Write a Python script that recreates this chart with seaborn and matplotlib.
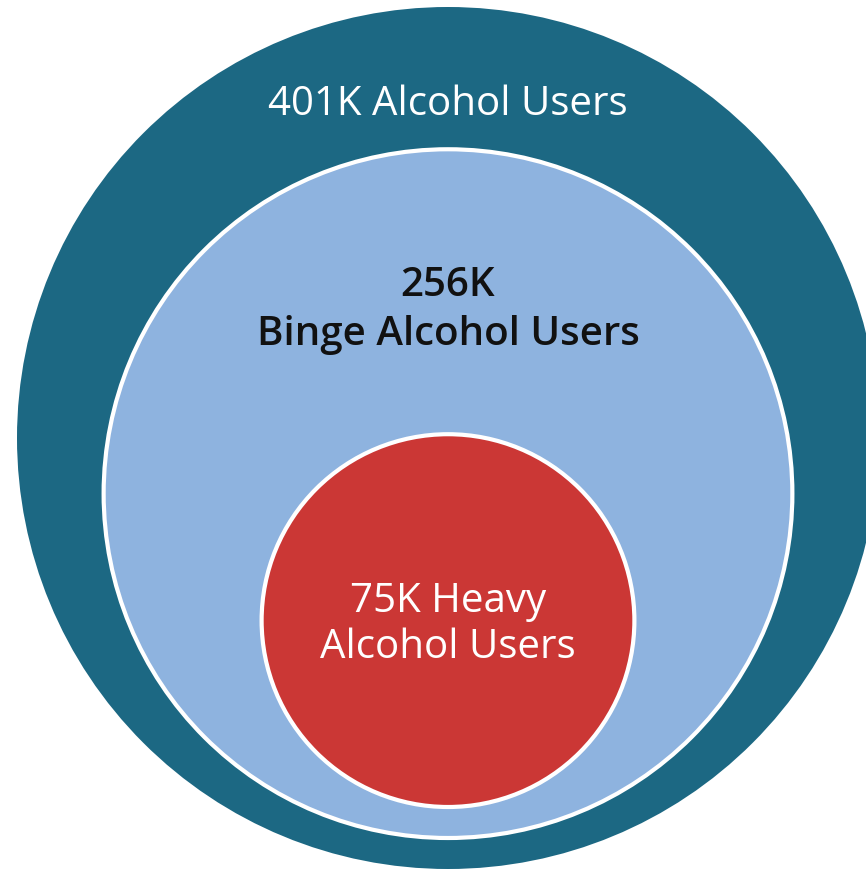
import numpy as np
import matplotlib.pyplot as plt
import seaborn as sns
from matplotlib.patches import Circle

# nested population circles (thousands of users)
labels = ['401K Alcohol Users', '256K\nBinge Alcohol Users', '75K Heavy\nAlcohol Users']
values = [401, 256, 75]
colors = ['#1c6883', '#8eb3df', '#cb3735']
text_colors = ['white', '#111111', 'white']
weights = ['normal', 'semibold', 'normal']

sns.set_theme(style='white')
plt.rcParams['font.family'] = ['Open Sans', 'DejaVu Sans']

fig = plt.figure(figsize=(8.66, 8.69), dpi=100)
ax = fig.add_axes([0, 0, 1, 1])
ax.set_xlim(0, 866)
ax.set_ylim(869, 0)
ax.set_aspect('equal')
ax.axis('off')

# area proportional radii, circles stacked from a common bottom
scale = 431 / np.sqrt(values[0])
cx = 448
bottom = 869
gap = 31
centers = []
for i, (v, c) in enumerate(zip(values, colors)):
    r = np.sqrt(v) * scale
    cy = bottom - gap * i - r
    centers.append((cy, r))
    edge = 'none' if i == 0 else 'white'
    ax.add_patch(Circle((cx, cy), r, facecolor=c, edgecolor=edge, linewidth=3))

# first baseline below circle top, and line pitch
first_base = [108, 147, 178]
pitch = [0, 49, 46]
for i, lab in enumerate(labels):
    cy, r = centers[i]
    for j, line in enumerate(lab.split('\n')):
        ax.text(cx, cy - r + first_base[i] + j * pitch[i], line,
                ha='center', va='baseline', color=text_colors[i],
                fontsize=29, fontweight=weights[i])

fig.savefig('out.png', dpi=100)
